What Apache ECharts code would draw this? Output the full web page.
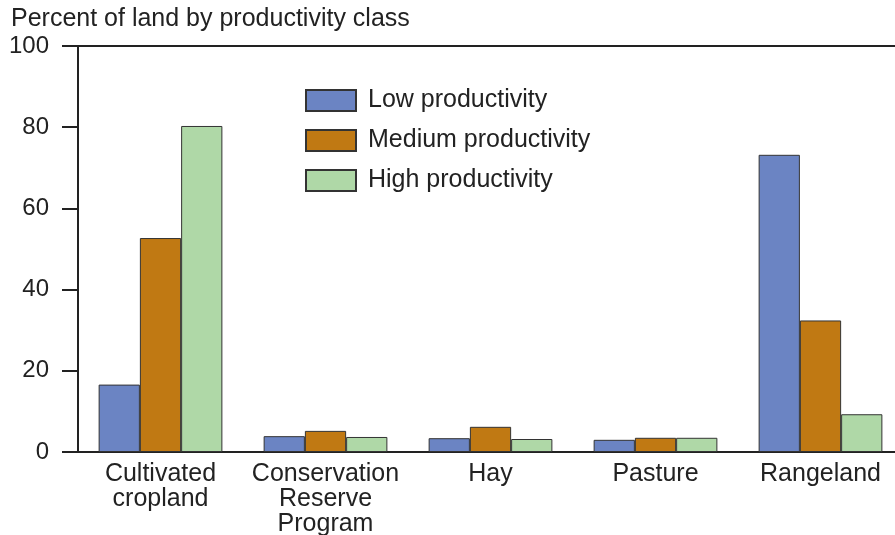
<!DOCTYPE html>
<html>
<head>
<meta charset="utf-8">
<script src="https://cdn.jsdelivr.net/npm/echarts@6/dist/echarts.min.js"></script>
<style>
  html, body { margin: 0; padding: 0; background: #fff; }
  #chart { width: 895px; height: 535px; }
</style>
</head>
<body>
<div id="chart"></div>
<script>
// 土地类别
var categories = ['Cultivated\ncropland', 'Conservation\nReserve\nProgram', 'Hay', 'Pasture', 'Rangeland'];
// 各生产力等级占比(%)
var lowValues = [16.6, 3.9, 3.4, 3.0, 73.2];
var mediumValues = [52.7, 5.2, 6.2, 3.5, 32.4];
var highValues = [80.3, 3.7, 3.2, 3.5, 9.3];
var seriesNames = ['Low productivity', 'Medium productivity', 'High productivity'];
var seriesColors = ['#6b84c3', '#c07913', '#afd8a7'];

var font = '"Liberation Sans", Arial, Helvetica, sans-serif';
var myChart = echarts.init(document.getElementById('chart'));

var makeSeries = function (i, data) {
    return {
        name: seriesNames[i],
        type: 'bar',
        data: data,
        barGap: '0%',
        barCategoryGap: '25%',
        itemStyle: {
            color: seriesColors[i],
            borderColor: '#333',
            borderWidth: 1
        }
    };
};

myChart.setOption({
    backgroundColor: '#fff',
    animation: false,
    title: {
        text: 'Percent of land by productivity class',
        left: 6,
        top: 2,
        textStyle: {
            fontFamily: font,
            fontSize: 25,
            fontWeight: 'normal',
            color: '#222'
        }
    },
    legend: {
        orient: 'vertical',
        left: 305,
        top: 88,
        padding: 0,
        itemWidth: 50,
        itemHeight: 21,
        itemGap: 15,
        icon: 'rect',
        textStyle: {
            fontFamily: font,
            fontSize: 25,
            color: '#222',
            padding: [0, 0, 0, 7]
        },
        data: seriesNames
    },
    // 右边框超出画布
    grid: {
        left: 78,
        top: 46,
        width: 825,
        bottom: 83,
        outerBoundsMode: 'none',
        containLabel: false,
        show: true,
        borderColor: '#222',
        borderWidth: 2
    },
    xAxis: {
        type: 'category',
        data: categories,
        axisLine: { lineStyle: { color: '#222', width: 2 } },
        axisTick: { show: false },
        axisLabel: {
            fontFamily: font,
            fontSize: 25,
            color: '#222',
            lineHeight: 25,
            margin: 10,
            interval: 0
        }
    },
    yAxis: {
        type: 'value',
        min: 0,
        max: 100,
        interval: 20,
        splitLine: { show: false },
        axisLine: { show: true, lineStyle: { color: '#222', width: 2 } },
        axisTick: { show: true, length: 16, lineStyle: { color: '#222', width: 2 } },
        axisLabel: {
            fontFamily: font,
            fontSize: 24,
            color: '#222',
            margin: 29
        }
    },
    series: [
        makeSeries(0, lowValues),
        makeSeries(1, mediumValues),
        makeSeries(2, highValues)
    ]
});
</script>
</body>
</html>
